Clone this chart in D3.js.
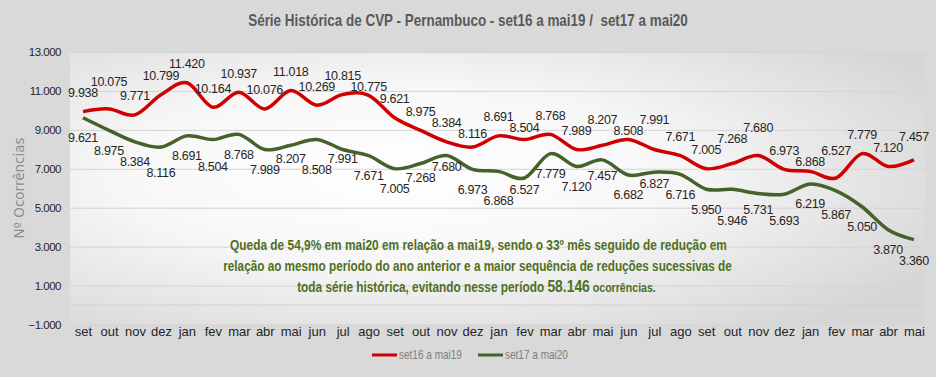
<!DOCTYPE html>
<html>
  <head>
    <meta charset="utf-8">
    <script src="https://d3js.org/d3.v7.min.js"></script>
    <style>
      body { margin: 0px; background: #d9d9d9; }
      svg { display: block; font-family: "Liberation Sans", Arial, sans-serif; }
      .tick-label { fill: #262626; font-size: 11.5px; letter-spacing: -0.5px; }
      .x-label { fill: #262626; font-size: 13px; }
      .data-label { fill: #262626; font-size: 12.5px; letter-spacing: -0.3px; }
      .grid { stroke: #d4d4d4; stroke-width: 1; }
    </style>
  </head>
  <body>
    <svg width="936" height="377"></svg>
    <script>
      const months = ['set','out','nov','dez','jan','fev','mar','abr','mai','jun','jul','ago',
        'set','out','nov','dez','jan','fev','mar','abr','mai','jun','jul','ago',
        'set','out','nov','dez','jan','fev','mar','abr','mai'];
      const serie1 = [9938, 10075, 9771, 10799, 11420, 10164, 10937, 10076, 11018, 10269, 10815, 10775,
        9621, 8975, 8384, 8116, 8691, 8504, 8768, 7989, 8207, 8508, 7991, 7671,
        7005, 7268, 7680, 6973, 6868, 6527, 7779, 7120, 7457];
      const serie2 = [9621, 8975, 8384, 8116, 8691, 8504, 8768, 7989, 8207, 8508, 7991, 7671,
        7005, 7268, 7680, 6973, 6868, 6527, 7779, 7120, 7457, 6682, 6827, 6716,
        5950, 5946, 5731, 5693, 6219, 5867, 5050, 3870, 3360];
      const yTicks = [-1000, 1000, 3000, 5000, 7000, 9000, 11000, 13000];
      const seriesNames = ['set16 a mai19', 'set17 a mai20'];
      const seriesColors = ['#d00000', '#46622a'];
      const title = 'Série Histórica de CVP - Pernambuco - set16 a mai19 /  set17 a mai20';
      const yLabel = 'Nº Ocorrências';
      const note1 = 'Queda de 54,9% em mai20 em relação a mai19, sendo o 33º mês seguido de redução em';
      const note2 = 'relação ao mesmo período do ano anterior e a maior sequência de reduções sucessivas de';
      const note3 = ['toda série histórica, evitando nesse período ', '58.146', ' ocorrências.'];

      const svg = d3.select('svg');
      const plot = { left: 70, right: 925, top: 52, bottom: 324.5 };

      const ptBR = d3.formatLocale({ decimal: ',', thousands: '.', grouping: [3], currency: ['R$', ''] });
      const fmt = ptBR.format(',d');

      const xScale = d3.scalePoint()
        .domain(d3.range(months.length))
        .range([83, 914]);
      const yScale = d3.scaleLinear()
        .domain([-1000, 13000])
        .range([plot.bottom, plot.top]);

      // plot area background
      const defs = svg.append('defs');
      const grad = defs.append('radialGradient')
        .attr('id', 'bg')
        .attr('cx', '0.38').attr('cy', '0.45').attr('r', '0.72');
      grad.append('stop').attr('offset', '0%').attr('stop-color', '#ffffff');
      grad.append('stop').attr('offset', '45%').attr('stop-color', '#f7f7f7');
      grad.append('stop').attr('offset', '100%').attr('stop-color', '#d6d6d6');

      svg.append('rect')
        .attr('x', plot.left).attr('y', plot.top)
        .attr('width', plot.right - plot.left)
        .attr('height', plot.bottom - plot.top)
        .attr('fill', 'url(#bg)');

      // grid + y axis
      const yAxis = d3.axisLeft(yScale)
        .tickValues(yTicks)
        .tickFormat(fmt)
        .tickSize(-(plot.right - plot.left))
        .tickPadding(9);
      const yAxisG = svg.append('g')
        .attr('transform', `translate(${plot.left},0)`)
        .call(yAxis);
      yAxisG.select('.domain').remove();
      yAxisG.selectAll('.tick line').attr('class', 'grid');
      yAxisG.selectAll('.tick text').attr('class', 'tick-label');

      // horizontal axis line at zero
      svg.append('line')
        .attr('x1', plot.left).attr('x2', plot.right)
        .attr('y1', yScale(0)).attr('y2', yScale(0))
        .attr('stroke', '#d0d0d0');

      // x labels
      const xAxis = d3.axisBottom(xScale)
        .tickFormat(i => months[i])
        .tickSize(0)
        .tickPadding(0);
      const xAxisG = svg.append('g')
        .attr('transform', `translate(0,${plot.bottom})`)
        .call(xAxis);
      xAxisG.select('.domain').remove();
      xAxisG.selectAll('.tick text')
        .attr('class', 'x-label')
        .attr('dy', '0.9em');

      // lines
      const line = d3.line()
        .x((d, i) => xScale(i))
        .y(d => yScale(d))
        .curve(d3.curveCardinal.tension(0));

      [serie1, serie2].forEach((s, k) => {
        svg.append('path')
          .datum(s)
          .attr('fill', 'none')
          .attr('stroke', seriesColors[k])
          .attr('stroke-width', 3.5)
          .attr('stroke-linejoin', 'round')
          .attr('d', line);
      });

      // data labels: first series above, second below; push apart neighbours that collide
      function labelYs(s, offset) {
        const ys = s.map(d => yScale(d) + offset);
        for (let i = 1; i < ys.length; i++) {
          const dy = ys[i] - ys[i - 1];
          if (Math.abs(dy) < 10) ys[i] = ys[i - 1] + (dy >= 0 ? 11 : -11);
        }
        return ys;
      }

      [[serie1, -14.5], [serie2, 24.5]].forEach(([s, off]) => {
        const ys = labelYs(s, off);
        svg.append('g').selectAll('text')
          .data(s)
          .join('text')
            .attr('class', 'data-label')
            .attr('text-anchor', 'middle')
            .attr('x', (d, i) => xScale(i))
            .attr('y', (d, i) => ys[i])
            .text(d => fmt(d));
      });

      // squeeze a text horizontally to a given width (the original uses a narrow font)
      function fitWidth(sel, cx, y, w) {
        const natural = sel.node().getComputedTextLength();
        sel.attr('transform', `translate(${cx},${y}) scale(${w / natural},1)`);
      }

      // title
      const titleT = svg.append('text')
        .attr('text-anchor', 'middle')
        .style('white-space', 'pre')
        .style('font-size', '16px')
        .style('font-weight', 'bold')
        .style('fill', '#595959')
        .text(title);
      fitWidth(titleT, 468, 26, 440);

      // y axis title
      svg.append('text')
        .attr('transform', 'translate(24,188) rotate(-90)')
        .attr('text-anchor', 'middle')
        .style('font-family', '"DejaVu Sans", sans-serif')
        .style('font-size', '13.5px')
        .style('fill', '#8c8c8c')
        .text(yLabel);

      // annotation
      const noteG = svg.append('g')
        .style('font-size', '14.5px')
        .style('font-weight', 'bold')
        .style('fill', '#4f7023')
        .attr('text-anchor', 'middle');
      fitWidth(noteG.append('text').text(note1), 478.5, 250, 497);
      fitWidth(noteG.append('text').text(note2), 477.5, 271, 509);
      const t3 = noteG.append('text').style('white-space', 'pre');
      t3.append('tspan').text(note3[0]);
      t3.append('tspan').style('font-size', '17px').text(note3[1]);
      t3.append('tspan').style('font-size', '13px').text(note3[2]);
      fitWidth(t3, 476.5, 292, 359);

      // legend
      const legend = svg.append('g').attr('transform', 'translate(372,355)');
      seriesNames.forEach((name, k) => {
        const item = legend.append('g').attr('transform', `translate(${k * 106},0)`);
        item.append('line')
          .attr('x1', 0).attr('x2', 25)
          .attr('stroke', seriesColors[k])
          .attr('stroke-width', 3);
        const t = item.append('text')
          .style('font-size', '12px')
          .style('fill', '#7f7f7f')
          .text(name);
        const w = t.node().getComputedTextLength();
        t.attr('transform', `translate(27,4) scale(${63 / w},1)`);
      });
    </script>
  </body>
</html>
